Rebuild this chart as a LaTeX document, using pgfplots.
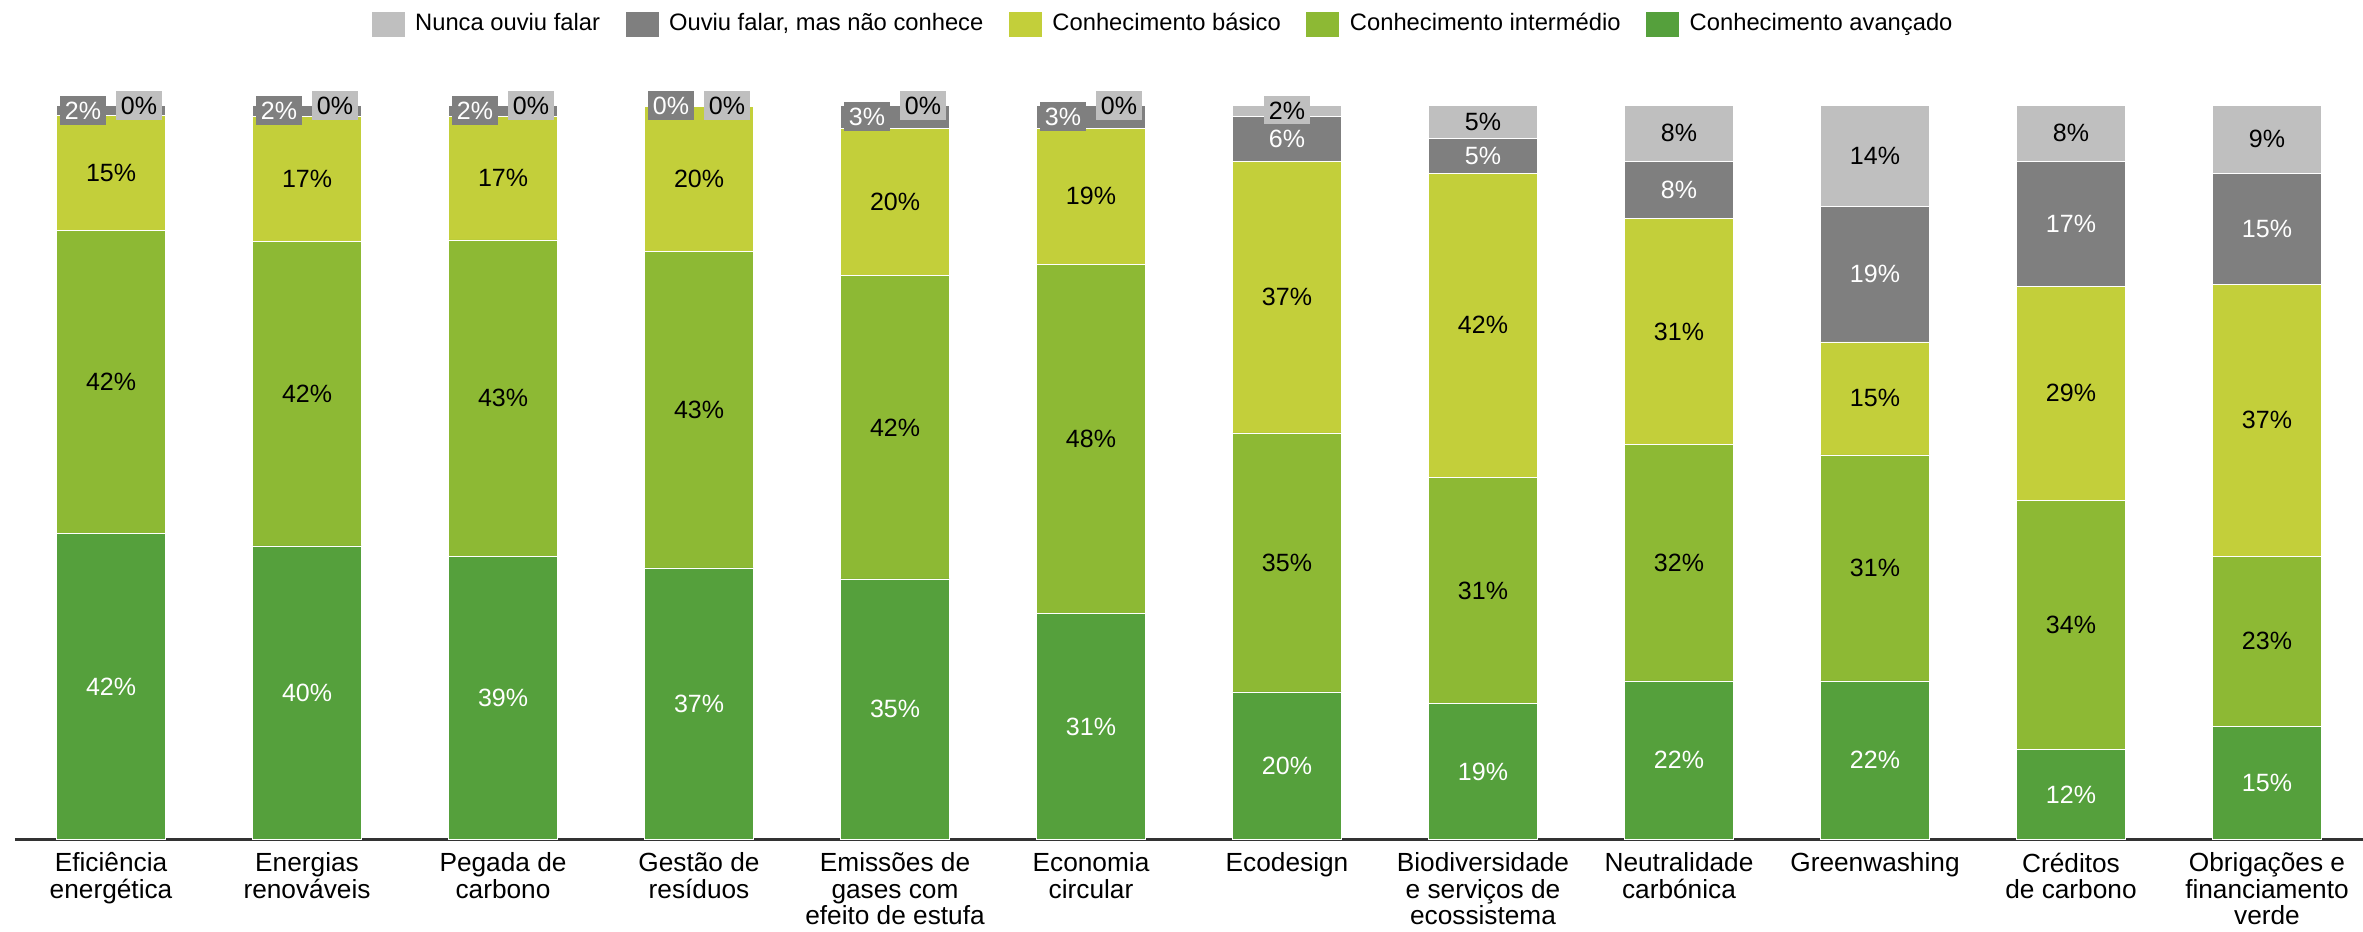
\documentclass[border=0pt]{standalone}
\usepackage{fontspec}
\setmainfont{Liberation Sans}
\usepackage{pgfplots}
\usepackage{pgfplotstable}
\pgfplotsset{compat=1.18}

\definecolor{nunca}{HTML}{BFBFBF}
\definecolor{ouviu}{HTML}{7F7F7F}
\definecolor{basico}{HTML}{C3CF3A}
\definecolor{interm}{HTML}{8DB934}
\definecolor{avanc}{HTML}{55A03C}

% bar heights, labels as printed; sh=1 -> small top labels set side by side
\pgfplotstableread{
x  av   int  bas  ouv  nun  avl intl basl ouvl nunl sh
0  41.7 41.3 15.6 1.4  0.01 42  42   15   2    0    1
1  40.0 41.5 17.0 1.5  0.01 40  42   17   2    0    1
2  38.6 43.1 16.8 1.5  0.01 39  43   17   2    0    1
3  37.0 43.1 19.8 0.1  0.01 37  43   20   0    0    1
4  35.5 41.3 20.1 3.1  0.01 35  42   20   3    0    1
5  30.8 47.6 18.5 3.1  0.01 31  48   19   3    0    1
6  20.1 35.3 37.0 6.1  1.5  20  35   37   6    2    0
7  18.5 30.8 41.5 4.7  4.5  19  31   42   5    5    0
8  21.6 32.2 30.8 7.8  7.6  22  32   31   8    8    0
9  21.6 30.8 15.4 18.5 13.7 22  31   15   19   14   0
10 12.3 33.9 29.2 17.0 7.6  12  34   29   17   8    0
11 15.4 23.2 37.0 15.2 9.2  15  23   37   15   9    0
}\data

\begin{document}
\begin{tikzpicture}[font=\fontsize{10}{11}\selectfont]
\begin{axis}[
    name=ax,
    scale only axis,
    width=939.2pt, height=296.536pt,
    ybar stacked,
    bar width=43.6pt,
    xmin=-0.49, xmax=11.49,
    ymin=0, ymax=101,
    axis x line=bottom,
    axis y line=none,
    x axis line style={-, line width=1.2pt, draw=black!80},
    xtick={0,...,11},
    xticklabels={{Eficiência\\energética},{Energias\\renováveis},{Pegada de\\carbono},
        {Gestão de\\resíduos},{Emissões de\\gases com\\efeito de estufa},{Economia\\circular},
        {Ecodesign},{Biodiversidade\\e serviços de\\ecossistema},{Neutralidade\\carbónica},
        {Greenwashing},{Créditos\\de carbono},{Obrigações e\\financiamento\\verde}},
    xticklabel style={align=center, font=\fontsize{10.5}{10.6}\selectfont, yshift=-1.8pt},
    major tick length=0pt,
    legend columns=5,
    reverse legend,
    legend style={at={(0.4883,1)}, anchor=center, yshift=29.7pt, draw=none,
        font=\fontsize{9.5}{11}\selectfont,
        nodes={inner sep=0pt},
        /tikz/every odd column/.append style={column sep=4pt},
        /tikz/every even column/.append style={column sep=9.8pt}},
    legend image code/.code={\fill[#1] (0pt,-5.2pt) rectangle (13.6pt,5.2pt);},
    nodes near coords={\pgfmathprintnumber[assume math mode=true]{\pgfplotspointmeta}\%},
    visualization depends on={\thisrow{sh} \as \sh},
]
\addplot[fill=avanc, draw=white, line width=0.25pt, point meta=\thisrow{avl},
    every node near coord/.append style={text=white, draw=none, anchor=center}]
    table[x=x, y=av]{\data};
\addplot[fill=interm, draw=white, line width=0.25pt, point meta=\thisrow{intl},
    every node near coord/.append style={text=black, draw=none, anchor=center}]
    table[x=x, y=int]{\data};
\addplot[fill=basico, draw=white, line width=0.25pt, point meta=\thisrow{basl},
    every node near coord/.append style={text=black, draw=none, anchor=center}]
    table[x=x, y=bas]{\data};
\addplot[fill=ouviu, draw=white, line width=0.25pt, point meta=\thisrow{ouvl},
    every node near coord/.append style={text=white, draw=none, fill=ouviu, inner sep=1pt,
        minimum width=18.4pt, minimum height=11.6pt, anchor=center, xshift=-11.2pt*\sh}]
    table[x=x, y=ouv]{\data};
\addplot[fill=nunca, draw=white, line width=0.25pt, point meta=\thisrow{nunl},
    every node near coord/.append style={text=black, draw=none, fill=nunca, inner sep=1pt,
        minimum width=18.4pt, minimum height=11.6pt, anchor=center, xshift=11.2pt*\sh}]
    table[x=x, y=nun]{\data};
\legend{Conhecimento avançado, Conhecimento intermédio, Conhecimento básico, {Ouviu falar, mas não conhece}, Nunca ouviu falar}
\end{axis}
\pgfresetboundingbox
\path[use as bounding box] ([xshift=-6pt,yshift=-36.6pt]ax.south west) rectangle ([yshift=39.26pt]ax.north east);
\end{tikzpicture}
\end{document}
